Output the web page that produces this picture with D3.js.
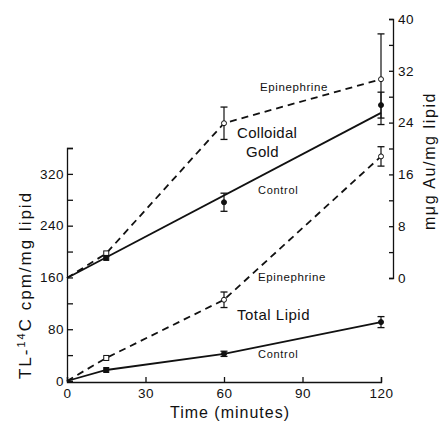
<!DOCTYPE html>
<html>
<head>
<meta charset="utf-8">
<script src="https://cdn.jsdelivr.net/npm/d3@7"></script>
<style>
  body { margin: 0; background: #fff; }
  svg text { font-family: "Liberation Sans", Arial, sans-serif; fill: #111; }
</style>
</head>
<body>
<div id="wrapper"></div>
<script>
// sampling times (minutes)
var times = [0, 15, 60, 120];

// colloidal gold, mμg Au/mg lipid (right axis)
var goldEpi = [0, 3.8, 23.9, 30.7];
var goldEpiErr = [0, 0, 2.5, 7.0];
var goldCtrl = [0, 3.1, 11.7, 26.7];
var goldCtrlErr = [0, 0, 1.4, 2.0];
// control gold is drawn as a straight fitted line
var goldCtrlFitT = [0, 120];
var goldCtrlFit = [0, 25.5];

// total lipid, TL-14C cpm/mg lipid (left axis)
var lipidEpi = [0, 35.6, 125.5, 347];
var lipidEpiErr = [0, 0, 12, 15];
var lipidCtrl = [0, 17, 42, 91];
var lipidCtrlErr = [0, 0, 4, 8.5];

var xTicks = [0, 30, 60, 90, 120];
var leftTicks = d3.range(0, 361, 40);
var rightTicks = d3.range(0, 41, 4);

var w = 440, h = 421;

var svg = d3.select("#wrapper").append("svg")
    .attr("width", w).attr("height", h);

var x = d3.scaleLinear().domain([0, 120]).range([67, 381]);
var yL = d3.scaleLinear().domain([0, 360]).range([381, 148]);
var yR = d3.scaleLinear().domain([0, 40]).range([278, 19]);

// axes
var gx = svg.append("g").attr("transform", "translate(0,382)")
    .call(d3.axisBottom(x).tickValues(xTicks).tickSize(-5).tickSizeOuter(-5).tickPadding(4));
var gl = svg.append("g").attr("transform", "translate(67,0)")
    .call(d3.axisLeft(yL).tickValues(leftTicks).tickSize(-6).tickSizeOuter(-6).tickPadding(3)
      .tickFormat(function(d){ return d % 80 == 0 ? d : ""; }));
var gr = svg.append("g").attr("transform", "translate(393,0)")
    .call(d3.axisRight(yR).tickValues(rightTicks).tickSize(-4).tickSizeOuter(-4).tickPadding(5)
      .tickFormat(function(d){ return d % 8 == 0 ? d : ""; }));

[gx, gl, gr].forEach(function(g){
  g.selectAll("path, line").attr("stroke", "#111").attr("stroke-width", 1.3);
  g.selectAll("text").style("font-size", "13.5px").style("letter-spacing", "0.5px").attr("fill", "#111");
});
gx.selectAll("text").attr("dy", "0.9em");

// line helpers
function pts(ts, vs){ return ts.map(function(t, i){ return [t, vs[i]]; }); }
var lineL = d3.line().x(function(d){ return x(d[0]); }).y(function(d){ return yL(d[1]); });
var lineR = d3.line().x(function(d){ return x(d[0]); }).y(function(d){ return yR(d[1]); });

function drawLine(gen, data, dashed){
  svg.append("path")
    .attr("d", gen(data))
    .attr("fill", "none")
    .attr("stroke", "#111")
    .attr("stroke-width", 1.8)
    .attr("stroke-dasharray", dashed ? "7,5" : null);
}

drawLine(lineR, pts(times, goldEpi), true);
drawLine(lineR, pts(goldCtrlFitT, goldCtrlFit), false);
drawLine(lineL, pts(times, lipidEpi), true);
drawLine(lineL, pts(times, lipidCtrl), false);

// error bars + markers
function drawPoints(y, vals, errs, open){
  times.forEach(function(t, i){
    if (t == 0) return;
    var cx = x(t), cy = y(vals[i]);
    if (errs[i] > 0){
      var y1 = y(vals[i] + errs[i]), y2 = y(vals[i] - errs[i]);
      svg.append("line").attr("x1", cx).attr("x2", cx).attr("y1", y1).attr("y2", y2)
        .attr("stroke", "#111").attr("stroke-width", 1.2);
      [y1, y2].forEach(function(yy){
        svg.append("line").attr("x1", cx - 3.5).attr("x2", cx + 3.5).attr("y1", yy).attr("y2", yy)
          .attr("stroke", "#111").attr("stroke-width", 1.3);
      });
    }
    if (t == 15){
      svg.append("rect").attr("x", cx - 2.5).attr("y", cy - 2.5).attr("width", 5).attr("height", 5)
        .attr("fill", open ? "#fff" : "#111").attr("stroke", "#111").attr("stroke-width", 1);
    } else {
      svg.append("circle").attr("cx", cx).attr("cy", cy).attr("r", 2.5)
        .attr("fill", open ? "#fff" : "#111").attr("stroke", "#111").attr("stroke-width", 1);
    }
  });
}

drawPoints(yR, goldEpi, goldEpiErr, true);
drawPoints(yR, goldCtrl, goldCtrlErr, false);
drawPoints(yL, lipidEpi, lipidEpiErr, true);
drawPoints(yL, lipidCtrl, lipidCtrlErr, false);

// annotations
function label(tx, ty, txt, size, ls){
  svg.append("text").attr("x", tx).attr("y", ty)
    .style("font-size", size + "px").style("letter-spacing", ls + "px").text(txt);
}
label(260, 91, "Epinephrine", 11.5, 0.6);
label(237, 138, "Colloidal", 15, 0.3);
label(246, 157, "Gold", 15, 0.3);
label(258, 194, "Control", 11, 0.7);
label(258, 281, "Epinephrine", 11.5, 0.6);
label(237, 320, "Total Lipid", 15, 0.5);
label(258, 358, "Control", 11, 0.7);

// axis titles
var lt = svg.append("text")
    .attr("transform", "translate(31,285) rotate(-90)")
    .attr("text-anchor", "middle")
    .style("font-size", "17px")
    .style("letter-spacing", "2px");
lt.append("tspan").text("TL-");
lt.append("tspan").attr("dy", -6).style("font-size", "11px").text("14");
lt.append("tspan").attr("dy", 6).text("C  cpm/mg  lipid");

svg.append("text")
    .attr("transform", "translate(435,161) rotate(-90)")
    .attr("text-anchor", "middle")
    .style("font-size", "16px")
    .style("letter-spacing", "1.6px")
    .text("mμg  Au/mg  lipid");

svg.append("text")
    .attr("x", 230).attr("y", 418)
    .attr("text-anchor", "middle")
    .style("font-size", "16px")
    .style("letter-spacing", "1px")
    .text("Time  (minutes)");
</script>
</body>
</html>
